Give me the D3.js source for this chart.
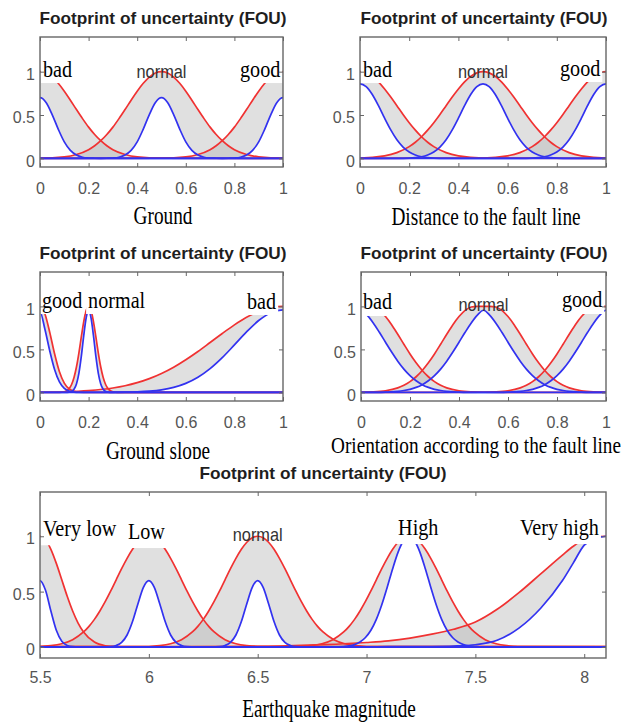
<!doctype html>
<html>
<head>
<meta charset="utf-8">
<title>Footprint of uncertainty (FOU)</title>
<script src="https://d3js.org/d3.v7.min.js"></script>
<style>
  body { margin: 0; background: #fff; }
  text { font-family: "Liberation Sans", Arial, sans-serif; }
  .title { font-size: 17px; font-weight: bold; fill: #1e1e1e; text-anchor: middle; }
  .tick text { font-size: 16px; fill: #555; font-family: "Liberation Sans", Arial, sans-serif; }
  .tick line { stroke: #666; }
  .frame { fill: none; stroke: #666; stroke-width: 1.4; }
  .fou { fill: #b4b4b4; fill-opacity: 0.42; stroke: none; }
  .upper { fill: none; stroke: #f03232; stroke-width: 1.7; }
  .lower { fill: none; stroke: #3232f0; stroke-width: 1.7; }
  .serif { font-family: "Liberation Serif", "Times New Roman", serif; fill: #000; }
  .mlabel { font-size: 19px; fill: #333; text-anchor: middle; }
  .setlabel { font-size: 24px; }
  .xlabel { text-anchor: middle; }
</style>
</head>
<body>
<svg id="chart" width="642" height="727"></svg>
<script>
// ---- values (membership vs. distance from the set centre) ----
const unitTicks = [0, 0.2, 0.4, 0.6, 0.8, 1];
const unitTickLabels = ["0", "0.2", "0.4", "0.6", "0.8", "1"];
const yTicks = [0, 0.5, 1];
const yTickLabels = ["0", "0.5", "1"];

// Ground
const groundSets = ["bad", "normal", "good"];
const groundCenters = [0, 0.5, 1];
const groundOffsets = [0, .025, .05, .075, .1, .125, .15, .175, .2, .225, .25, .275, .3, .35, .4, .5, 1];
const groundUpper = [1, .984, .938, .866, .775, .671, .563, .458, .36, .275, .203, .145, .10, .044, .017, .002, 0];
const groundLower = [.70, .645, .505, .337, .19, .092, .038, .013, .004, .001, 0, 0, 0, 0, 0, 0, 0];

// Distance to the fault line
const distSets = ["bad", "normal", "good"];
const distCenters = [0, 0.5, 1];
const distOffsets = [0, .025, .05, .075, .1, .125, .15, .175, .2, .225, .25, .275, .3, .35, .4, .5, 1];
const distUpper = [1, .986, .946, .882, .80, .707, .607, .506, .411, .325, .249, .186, .135, .066, .029, .004, 0];
const distLower = [.86, .828, .737, .608, .463, .328, .214, .13, .073, .038, .018, .008, .003, 0, 0, 0, 0];

// Ground slope
const slopeSets = ["good", "normal", "bad"];
const slopeCenters = [0, 0.2, 1];
const slopeGoodOffsets = [0, .02, .04, .06, .08, .1, .12, .14, .16, .2, 1];
const slopeGoodUpper = [1, .915, .70, .449, .24, .108, .04, .013, .003, 0, 0];
const slopeGoodLower = [.938, .737, .485, .267, .123, .047, .015, .004, .001, 0, 0];
const slopeNormalOffsets = [0, .01, .02, .03, .04, .05, .06, .07, .08, .09, .1, .12, 1];
const slopeNormalUpper = [1, .952, .823, .645, .458, .295, .173, .092, .044, .019, .008, .001, 0];
const slopeNormalLower = [.95, .867, .66, .419, .222, .098, .036, .011, .003, .001, 0, 0, 0];
const slopeBadOffsets = [0, .05, .1, .15, .2, .25, .3, .35, .4, .45, .5, .55, .6, .65, .7, .8, .9, 1];
const slopeBadUpper = [1, .985, .941, .873, .785, .685, .58, .476, .38, .293, .22, .16, .113, .077, .051, .021, .007, .002];
const slopeBadLower = [.96, .927, .836, .703, .552, .404, .276, .176, .105, .058, .03, .015, .007, .003, .001, 0, 0, 0];

// Orientation according to the fault line
const orientSets = ["bad", "normal", "good"];
const orientCenters = [0, 0.5, 1];
const orientOffsets = [0, .025, .05, .075, .1, .125, .15, .175, .2, .225, .25, .275, .3, .325, .35, .4, .45, .5, 1];
const orientUpper = [1, 1, .993, .954, .882, .787, .676, .56, .447, .344, .255, .182, .125, .083, .053, .019, .006, .002, 0];
const orientLower = [.955, .899, .808, .699, .583, .469, .363, .271, .195, .135, .09, .058, .036, .022, .012, .004, .001, 0, 0];

// Earthquake magnitude
const quakeSets = ["Very low", "Low", "normal", "High", "Very high"];
const quakeCenters = [5.5, 6, 6.5, 7.195];
const quakeTicks = [5.5, 6, 6.5, 7, 7.5, 8];
const quakeTickLabels = ["5.5", "6", "6.5", "7", "7.5", "8"];
const quakeVeryLowOffsets = [0, .025, .05, .075, .1, .125, .15, .175, .2, .25, .3, .35, .4, 3];
const quakeVeryLowUpper = [1, .969, .882, .755, .607, .458, .325, .216, .135, .044, .011, .002, 0, 0];
const quakeVeryLowLower = [.6, .514, .324, .15, .051, .013, .002, 0, 0, 0, 0, 0, 0, 0];
const quakeMidOffsets = [0, .025, .05, .075, .1, .125, .15, .175, .2, .225, .25, .275, .3, .35, .4, .45, .5, 3];
const quakeMidUpper = [1, .986, .946, .882, .80, .707, .607, .506, .411, .325, .249, .186, .135, .066, .029, .011, .004, 0];
const quakeMidLower = [.6, .539, .391, .229, .108, .041, .013, .003, .001, 0, 0, 0, 0, 0, 0, 0, 0, 0];
const quakeHighLower = [1, .962, .857, .707, .539, .381, .249, .151, .085, .044, .021, .009, .004, 0, 0, 0, 0, 0];
const quakeVeryHighX = [5.5, 6.0, 6.4, 6.6, 6.8, 7.0, 7.1, 7.2, 7.3, 7.4, 7.5, 7.6, 7.7, 7.8, 7.9, 7.95, 8.0, 8.05, 8.1];
const quakeVeryHighUpper = [0, .001, .004, .008, .02, .04, .055, .08, .115, .16, .225, .34, .49, .66, .83, .91, .97, .995, 1];
const quakeVeryHighLower = [0, 0, 0, 0, 0, .001, .002, .003, .004, .008, .02, .06, .17, .35, .6, .76, .92, .98, 1];

// a symmetric set: the profile is read once and laid out on both sides of the centre
function setPoints(center, offs, up, lo) {
  const pts = [];
  for (let i = offs.length - 1; i > 0; i--) pts.push({ x: center - offs[i], u: up[i], l: lo[i] });
  offs.forEach((o, i) => pts.push({ x: center + o, u: up[i], l: lo[i] }));
  return pts;
}

const panels = [
  { id: 1, left: 40, right: 283, top: 37, bottom: 167, xDomain: [0, 1], xTicks: unitTicks, xTickLabels: unitTickLabels,
    tickPad: 15.6, xLabel: "Ground", xLabelX: 163, xLabelY: 224, xLabelSize: 25, titleX: 163,
    names: groundSets,
    sets: groundCenters.map(c => setPoints(c, groundOffsets, groundUpper, groundLower)),
    labelPos: [[0.012, 0.938, "serif"], [0.5, 0.927, "sans"], [0.823, 0.938, "serif"]], boxPad: 6 },
  { id: 2, left: 360, right: 606, top: 37, bottom: 167, xDomain: [0, 1], xTicks: unitTicks, xTickLabels: unitTickLabels,
    tickPad: 15.6, xLabel: "Distance to the fault line", xLabelX: 486, xLabelY: 225, xLabelSize: 25, titleX: 484,
    names: distSets,
    sets: distCenters.map(c => setPoints(c, distOffsets, distUpper, distLower)),
    labelPos: [[0.012, 0.938, "serif"], [0.5, 0.927, "sans"], [0.813, 0.95, "serif"]], boxPad: 6 },
  { id: 3, left: 40, right: 283, top: 272, bottom: 401, xDomain: [0, 1], xTicks: unitTicks, xTickLabels: unitTickLabels,
    tickPad: 15.6, xLabel: "Ground slope", xLabelX: 158, xLabelY: 459, xLabelSize: 25, titleX: 163,
    names: slopeSets,
    sets: [setPoints(slopeCenters[0], slopeGoodOffsets, slopeGoodUpper, slopeGoodLower),
           setPoints(slopeCenters[1], slopeNormalOffsets, slopeNormalUpper, slopeNormalLower),
           setPoints(slopeCenters[2], slopeBadOffsets, slopeBadUpper, slopeBadLower)],
    labelPos: [[0.008, 0.981, "serif"], [0.198, 0.981, "serif"], [0.852, 0.97, "serif"]], boxPad: 6 },
  { id: 4, left: 361, right: 606, top: 272, bottom: 401, xDomain: [0, 1], xTicks: unitTicks, xTickLabels: unitTickLabels,
    tickPad: 15.6, xLabel: "Orientation according to the fault line", xLabelX: 476, xLabelY: 453, xLabelSize: 23, titleX: 484,
    names: orientSets,
    sets: orientCenters.map(c => setPoints(c, orientOffsets, orientUpper, orientLower)),
    labelPos: [[0.008, 0.97, "serif"], [0.5, 0.947, "sans"], [0.82, 0.993, "serif"]], boxPad: 7 },
  { id: 5, left: 40, right: 606, top: 492, bottom: 658, xDomain: [5.5, 8.1], xTicks: quakeTicks, xTickLabels: quakeTickLabels,
    tickPad: 13.6, xLabel: "Earthquake magnitude", xLabelX: 329, xLabelY: 717, xLabelSize: 25, titleX: 323, cover: 459,
    names: quakeSets,
    sets: [setPoints(quakeCenters[0], quakeVeryLowOffsets, quakeVeryLowUpper, quakeVeryLowLower),
           setPoints(quakeCenters[1], quakeMidOffsets, quakeMidUpper, quakeMidLower),
           setPoints(quakeCenters[2], quakeMidOffsets, quakeMidUpper, quakeMidLower),
           setPoints(quakeCenters[3], quakeMidOffsets, quakeMidUpper, quakeHighLower),
           quakeVeryHighX.map((x, i) => ({ x: x, u: quakeVeryHighUpper[i], l: quakeVeryHighLower[i] }))],
    labelPos: [[5.514, 1.0, "serif"], [5.904, 0.975, "serif"], [6.5, 0.957, "sans"], [7.145, 1.011, "serif"], [7.705, 1.011, "serif"]],
    boxPad: 9 }
];

const svg = d3.select("#chart");

function squeeze(sel, k) {
  sel.each(function () {
    const w = this.getComputedTextLength() * k;
    d3.select(this).attr("textLength", w).attr("lengthAdjust", "spacingAndGlyphs");
  });
}

panels.forEach(p => {
  if (p.cover) {
    svg.append("rect").attr("x", 0).attr("y", p.cover).attr("width", 642).attr("height", 727 - p.cover).attr("fill", "#fff");
  }
  const x = d3.scaleLinear().domain(p.xDomain).range([p.left, p.right]);
  const y = d3.scaleLinear().domain([-0.1, 1.4]).range([p.bottom, p.top]);
  const g = svg.append("g");

  g.append("clipPath").attr("id", "clip" + p.id).append("rect")
    .attr("x", p.left).attr("y", p.top)
    .attr("width", p.right - p.left).attr("height", p.bottom - p.top);
  const plot = g.append("g").attr("clip-path", "url(#clip" + p.id + ")");

  const area = d3.area().x(d => x(d.x)).y0(d => y(d.l)).y1(d => y(d.u)).curve(d3.curveMonotoneX);
  const upLine = d3.line().x(d => x(d.x)).y(d => y(d.u)).curve(d3.curveMonotoneX);
  const loLine = d3.line().x(d => x(d.x)).y(d => y(d.l)).curve(d3.curveMonotoneX);

  plot.selectAll("path.fou").data(p.sets).join("path").attr("class", "fou").attr("d", area);
  plot.selectAll("path.upper").data(p.sets).join("path").attr("class", "upper").attr("d", upLine);
  plot.selectAll("path.lower").data(p.sets).join("path").attr("class", "lower").attr("d", loLine);

  // set names, pasted on white boxes like in the figure
  const labels = g.append("g");
  p.names.forEach((name, i) => {
    const [lx, ly, kind] = p.labelPos[i];
    if (kind === "sans") {
      labels.append("text").attr("class", "mlabel").attr("x", x(lx)).attr("y", y(ly)).text(name).call(squeeze, 0.86);
    } else {
      const t = labels.append("text").attr("class", "serif setlabel").attr("x", x(lx)).attr("y", y(ly)).text(name);
      t.call(squeeze, 0.84);
      const w = +t.attr("textLength");
      labels.insert("rect", () => t.node())
        .attr("x", x(lx) - 2).attr("y", y(ly) - 21)
        .attr("width", Math.min(w + 4, p.right - x(lx) + 2)).attr("height", 21 + p.boxPad)
        .attr("fill", "#fff");
    }
  });

  // axes in a box, ticks pointing inwards
  g.append("g").attr("transform", `translate(0,${p.bottom})`)
    .call(d3.axisBottom(x).tickValues(p.xTicks).tickFormat((d, i) => p.xTickLabels[i])
      .tickSizeInner(-4).tickSizeOuter(0).tickPadding(p.tickPad))
    .call(a => a.select(".domain").remove());
  g.append("g").attr("transform", `translate(0,${p.top})`)
    .call(d3.axisTop(x).tickValues(p.xTicks).tickFormat("").tickSizeInner(-4).tickSizeOuter(0))
    .call(a => a.select(".domain").remove());
  g.append("g").attr("transform", `translate(${p.left},0)`)
    .call(d3.axisLeft(y).tickValues(yTicks).tickFormat((d, i) => yTickLabels[i])
      .tickSizeInner(-4).tickSizeOuter(0).tickPadding(5))
    .call(a => a.select(".domain").remove())
    .call(a => a.selectAll("text").attr("dy", "0.48em"));
  g.append("g").attr("transform", `translate(${p.right},0)`)
    .call(d3.axisRight(y).tickValues(yTicks).tickFormat("").tickSizeInner(-4).tickSizeOuter(0))
    .call(a => a.select(".domain").remove());

  g.append("rect").attr("class", "frame")
    .attr("x", p.left).attr("y", p.top)
    .attr("width", p.right - p.left).attr("height", p.bottom - p.top);

  g.append("text").attr("class", "title")
    .attr("x", p.titleX).attr("y", p.top - 13)
    .text("Footprint of uncertainty (FOU)")
    .attr("textLength", 247).attr("lengthAdjust", "spacingAndGlyphs");

  // axis name, narrowed with a horizontal scale like the stretched original
  const k = 25 / p.xLabelSize * 0.77;
  g.append("text").attr("class", "serif xlabel")
    .attr("transform", `translate(${p.xLabelX},${p.xLabelY}) scale(${k},1)`)
    .style("font-size", p.xLabelSize + "px")
    .text(p.xLabel);
});
</script>
</body>
</html>
